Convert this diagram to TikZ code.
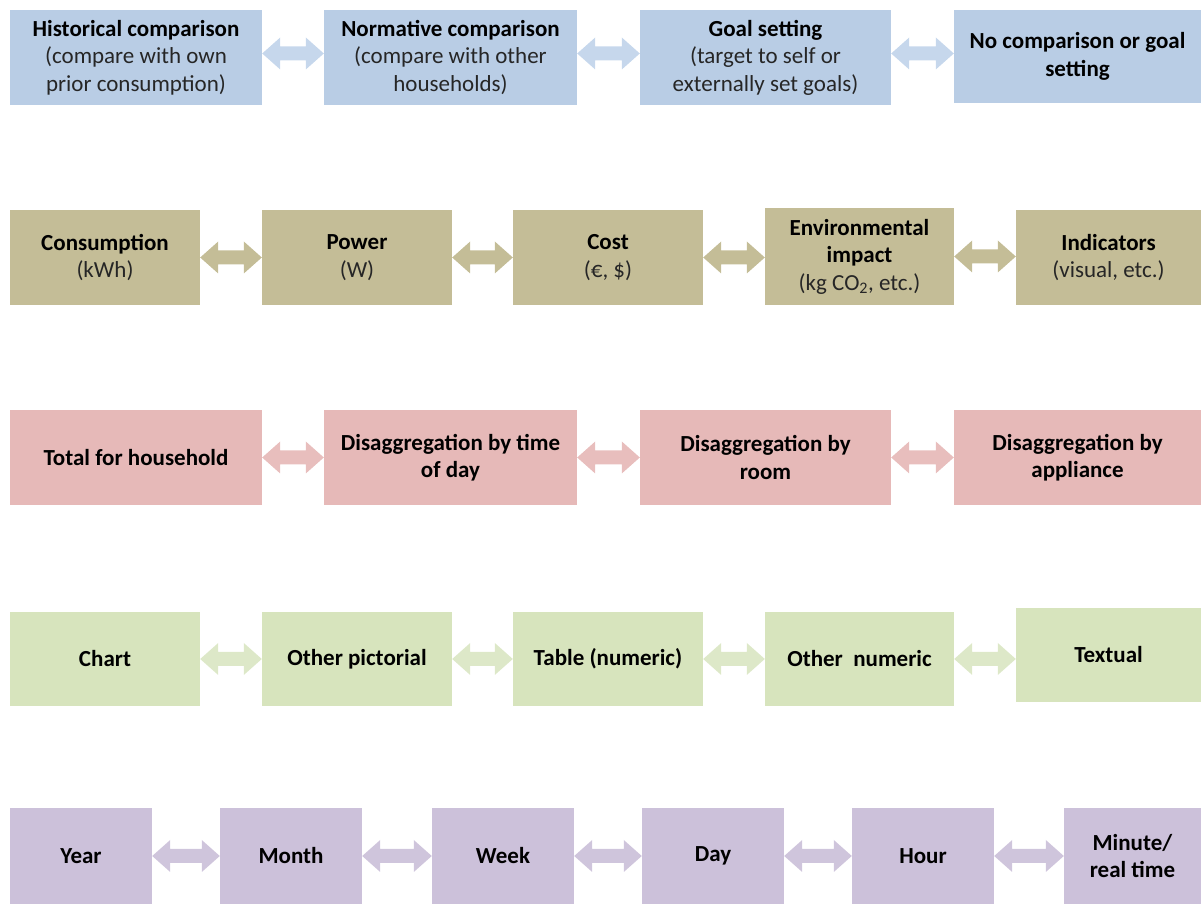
\documentclass[tikz,border=0pt]{standalone}
\usepackage{fontspec}
\setmainfont{Carlito}
\usetikzlibrary{calc}
\definecolor{bluebox}{HTML}{B9CDE5}
\definecolor{bluearr}{HTML}{C6D7EC}
\definecolor{tanbox}{HTML}{C4BD97}
\definecolor{tanarr}{HTML}{C4BD97}
\definecolor{pinkbox}{HTML}{E6B9B8}
\definecolor{pinkarr}{HTML}{E8BEBD}
\definecolor{greenbox}{HTML}{D7E4BD}
\definecolor{greenarr}{HTML}{DDE8C8}
\definecolor{purplebox}{HTML}{CCC1DA}
\definecolor{purplearr}{HTML}{CFC5DC}
\definecolor{subtext}{HTML}{262626}
\tikzset{
  box/.style={rectangle, inner sep=0pt, align=center, text=black,
    font=\fontsize{23}{27.5}\selectfont},
}
\newcommand\sub[1]{\textcolor{subtext}{#1}}
\newcommand\mkbox[7]{\node[box, fill=#6, minimum width=#4pt, minimum height=#5pt] (#1) at (#2,#3) {#7};}
\newcommand\darr[4]{%
  \coordinate (s) at ($(#1.east)+(0,#4)$);
  \coordinate (t) at ($(#1.east -| #2.west)+(0,#4)$);
  \fill[#3] (s) -- ++(18,16) -- ++(0,-9) -- ($(t)+(-18,7)$) -- ++(0,9) -- (t)
    -- ++(-18,-16) -- ++(0,9) -- ($(s)+(18,-7)$) -- ++(0,-9) -- cycle;}
\begin{document}
\begin{tikzpicture}[x=1pt,y=1pt]
\useasboundingbox (0,0) rectangle (1201,904);
\clip (0,0) rectangle (1201,904);
% Row 1
\mkbox{r1a}{136}{846.5}{252}{95}{bluebox}{\textbf{Historical comparison}\\\sub{(compare with own}\\\sub{prior consumption)}}
\mkbox{r1b}{450.5}{846.5}{253}{95}{bluebox}{\textbf{Normative comparison}\\\sub{(compare with other}\\\sub{households)}}
\mkbox{r1c}{765.5}{846.5}{251}{95}{bluebox}{\textbf{Goal setting}\\\sub{(target to self or}\\\sub{externally set goals)}}
\mkbox{r1d}{1077.5}{847.5}{247}{93}{bluebox}{\textbf{No comparison or goal}\\\textbf{setting}}
\darr{r1a}{r1b}{bluearr}{4}
\darr{r1b}{r1c}{bluearr}{4}
\darr{r1c}{r1d}{bluearr}{4}
% Row 2
\mkbox{r2a}{105}{646.5}{190}{95}{tanbox}{\textbf{Consumption}\\\sub{(kWh)}}
\mkbox{r2b}{357}{646.5}{190}{95}{tanbox}{\textbf{Power}\\\sub{(W)}}
\mkbox{r2c}{608}{646.5}{190}{95}{tanbox}{\textbf{Cost}\\\sub{(€, \$)}}
\mkbox{r2d}{859.5}{647.5}{189}{97}{tanbox}{\textbf{Environmental}\\\textbf{impact}\\\sub{(kg CO\textsubscript{2}, etc.)}}
\mkbox{r2e}{1108.5}{646.5}{185}{95}{tanbox}{\textbf{Indicators}\\\sub{(visual, etc.)}}
\darr{r2a}{r2b}{tanarr}{0}
\darr{r2b}{r2c}{tanarr}{0}
\darr{r2c}{r2d}{tanarr}{0}
\darr{r2d}{r2e}{tanarr}{0}
% Row 3
\mkbox{r3a}{136}{446.5}{252}{95}{pinkbox}{\textbf{Total for household}}
\mkbox{r3b}{450.5}{446.5}{253}{95}{pinkbox}{\textbf{Disaggregation by time}\\\textbf{of day}}
\mkbox{r3c}{765.5}{446.5}{251}{95}{pinkbox}{\textbf{Disaggregation by}\\\textbf{room}}
\mkbox{r3d}{1077.5}{446.5}{247}{95}{pinkbox}{\textbf{Disaggregation by}\\\textbf{appliance}}
\darr{r3a}{r3b}{pinkarr}{0}
\darr{r3b}{r3c}{pinkarr}{0}
\darr{r3c}{r3d}{pinkarr}{0}
% Row 4
\mkbox{r4a}{105}{245}{190}{94}{greenbox}{\textbf{Chart}}
\mkbox{r4b}{357}{245}{190}{94}{greenbox}{\textbf{Other pictorial}}
\mkbox{r4c}{608}{245}{190}{94}{greenbox}{\textbf{Table (numeric)}}
\mkbox{r4d}{859.5}{245}{189}{94}{greenbox}{\textbf{Other~ numeric}}
\mkbox{r4e}{1108.5}{249}{185}{94}{greenbox}{\textbf{Textual}}
\darr{r4a}{r4b}{greenarr}{0}
\darr{r4b}{r4c}{greenarr}{0}
\darr{r4c}{r4d}{greenarr}{0}
\darr{r4d}{r4e}{greenarr}{0}
% Row 5
\mkbox{r5a}{81}{48}{142}{96}{purplebox}{\textbf{Year}}
\mkbox{r5b}{291}{48}{142}{96}{purplebox}{\textbf{Month}}
\mkbox{r5c}{503}{48}{142}{96}{purplebox}{\textbf{Week}}
\mkbox{r5d}{713}{48}{142}{96}{purplebox}{\textbf{Day}}
\mkbox{r5e}{923}{48}{142}{96}{purplebox}{\textbf{Hour}}
\mkbox{r5f}{1132.5}{48}{137}{96}{purplebox}{\textbf{Minute/}\\\textbf{real time}}
\darr{r5a}{r5b}{purplearr}{0}
\darr{r5b}{r5c}{purplearr}{0}
\darr{r5c}{r5d}{purplearr}{0}
\darr{r5d}{r5e}{purplearr}{0}
\darr{r5e}{r5f}{purplearr}{0}
\end{tikzpicture}
\end{document}
